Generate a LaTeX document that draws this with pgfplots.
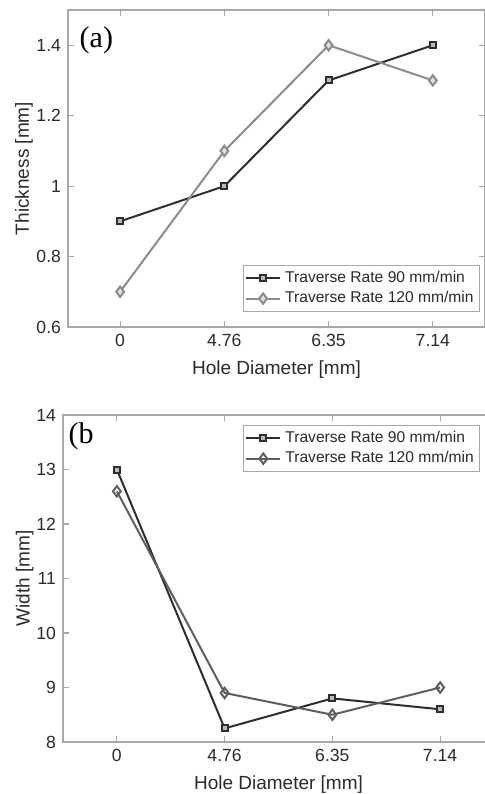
\documentclass[border=0pt]{standalone}
\usepackage{fontspec}
\setmainfont{Liberation Sans}
\newfontfamily\seriffont{Liberation Serif}
\usepackage{pgfplots}
\pgfplotsset{compat=1.18}
\definecolor{axgray}{HTML}{A8A8A8}
\definecolor{darkline}{HTML}{2E2E2E}
\definecolor{lightline}{HTML}{8C8C8C}
\definecolor{midline}{HTML}{5E5E5E}
\definecolor{txtgray}{HTML}{2A2A2A}

\pgfplotsset{
  holestyle/.style={
    scale only axis,
    xmin=0.5, xmax=4.5,
    xtick={1,2,3,4}, xticklabels={0,4.76,6.35,7.14},
    axis line style={axgray, line width=0.8pt},
    tick style={axgray, line width=0.6pt},
    tick align=inside, major tick length=3pt,
    tick label style={font=\fontsize{8.8}{10}\selectfont, text=txtgray},
    label style={font=\fontsize{9.5}{11}\selectfont, text=txtgray},
    ylabel style={yshift=-5pt},
    /pgf/number format/assume math mode=true,
    xlabel={Hole Diameter [mm]},
    legend cell align=left,
    legend style={draw=axgray, font=\fontsize{7.8}{9}\selectfont, text=txtgray,
      inner sep=1pt, row sep=-1pt},
  }
}

\begin{document}
\begin{tikzpicture}
\useasboundingbox (0,0) rectangle (242.5pt,397pt);

% (a) thickness
\begin{axis}[holestyle,
  at={(34pt,233.5pt)}, anchor=south west,
  width=208.5pt, height=158.5pt,
  ymin=0.6, ymax=1.5, ytick={0.6,0.8,1,1.2,1.4},
  ylabel={Thickness [mm]},
  legend style={at={(rel axis cs:0.988,0.047)}, anchor=south east},
]
\addplot[darkline, line width=1pt, mark=square*, mark size=1.5pt,
  mark options={fill=gray!55, draw=darkline}] coordinates {
  (1,0.9)(2,1.0)(3,1.3)(4,1.4)};
\addlegendentry{Traverse Rate 90 mm/min}
\addplot[lightline, line width=1pt, mark=diamond*, mark size=2.6pt,
  mark options={fill=gray!25, draw=lightline}] coordinates {
  (1,0.7)(2,1.1)(3,1.4)(4,1.3)};
\addlegendentry{Traverse Rate 120 mm/min}
\node[font=\seriffont\fontsize{15}{17}\selectfont, text=black]
  at (rel axis cs:0.068,0.905) {(a)};
\end{axis}

% (b) width
\begin{axis}[holestyle,
  at={(31.5pt,26pt)}, anchor=south west,
  width=215.5pt, height=163.5pt,
  ymin=8, ymax=14, ytick={8,9,...,14},
  ylabel={Width [mm]},
  ylabel style={yshift=-0.5pt},
  legend style={at={(rel axis cs:0.968,0.97)}, anchor=north east},
]
\addplot[darkline, line width=1pt, mark=square*, mark size=1.5pt,
  mark options={fill=gray!55, draw=darkline}] coordinates {
  (1,13.0)(2,8.25)(3,8.8)(4,8.6)};
\addlegendentry{Traverse Rate 90 mm/min}
\addplot[midline, line width=1pt, mark=diamond, mark size=2.6pt,
  mark options={draw=midline, fill=white}] coordinates {
  (1,12.6)(2,8.9)(3,8.5)(4,9.0)};
\addlegendentry{Traverse Rate 120 mm/min}
\node[font=\seriffont\fontsize{15}{17}\selectfont, text=black]
  at (rel axis cs:0.042,0.935) {(b};
\end{axis}
\end{tikzpicture}
\end{document}
